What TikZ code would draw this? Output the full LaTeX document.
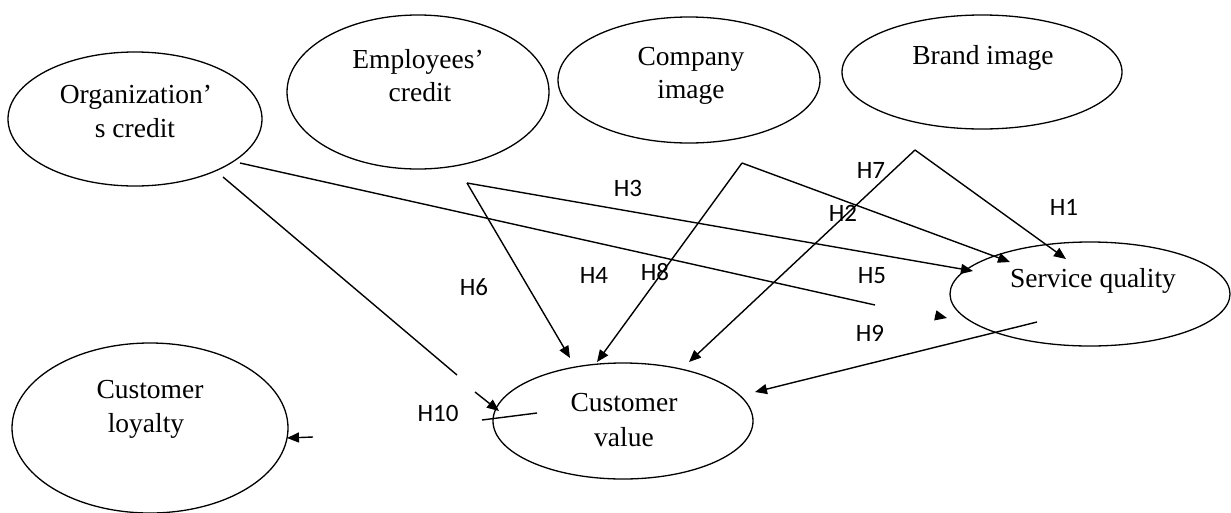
\documentclass[tikz,border=0pt]{standalone}
\usepackage{fontspec}
\setmainfont{Liberation Serif}
\newfontfamily\hfont{Carlito}
\usetikzlibrary{arrows.meta,shapes.geometric}
\begin{document}
\begin{tikzpicture}[x=1pt,y=-1pt,
  ell/.style={draw, ellipse, line width=1.3pt, inner sep=0pt},
  etext/.style={font=\fontsize{27.5}{34}\selectfont, anchor=base, inner sep=0pt},
  hlab/.style={font=\hfont\fontsize{25}{28}\selectfont, inner sep=0pt},
  ln/.style={line width=1.4pt},
  arr/.style={line width=1.4pt, -{Triangle[length=12pt,width=10pt]}}
]
\useasboundingbox (0,0) rectangle (1231,512);
\fill[white] (0,0) rectangle (1231,512);

% ellipses
\node[ell, minimum width=254pt, minimum height=134pt] (org) at (135,119) {};
\node[ell, minimum width=262pt, minimum height=154pt] (emp) at (418,92) {};
\node[ell, minimum width=262pt, minimum height=126pt] (comp) at (689,80) {};
\node[ell, minimum width=280pt, minimum height=114pt] (brand) at (982,72) {};
\node[ell, minimum width=280pt, minimum height=104pt] (sq) at (1090,294) {};
\node[ell, minimum width=260pt, minimum height=116pt] (cv) at (623,421) {};
\node[ell, minimum width=276pt, minimum height=170pt] (cl) at (150,428) {};

% ellipse texts
\node[etext] (org1) at (136,103) {Organization’};
\node[etext] (org2) at (135,137) {s credit};
\node[etext] (emp1) at (418,68) {Employees’};
\node[etext] (emp2) at (420,101) {credit};
\node[etext] (comp1) at (691,65) {Company};
\node[etext] (comp2) at (691,98) {image};
\node[etext] (brand1) at (983,64) {Brand image};
\node[etext] (sq1) at (1093,287) {Service quality};
\node[etext] (cv1) at (624,411) {Customer};
\node[etext] (cv2) at (624,446) {value};
\node[etext] (cl1) at (150,398) {Customer};
\node[etext] (cl2) at (146,432) {loyalty};

% connector points
\coordinate (orgA) at (240,163);
\coordinate (orgB) at (875,305);
\coordinate (sqTa) at (935,315.3);
\coordinate (sqTb) at (947,318);
\coordinate (orgC) at (223,177);
\coordinate (orgD) at (457,375);
\coordinate (h10a) at (475,392);
\coordinate (h10b) at (499,411);
\coordinate (cva) at (482,420);
\coordinate (cvb) at (537,413);
\coordinate (cla) at (313,437);
\coordinate (clb) at (287,438);
\coordinate (empA) at (467,183);
\coordinate (empSQ) at (973,271);
\coordinate (empCV) at (570,358);
\coordinate (compA) at (742,163);
\coordinate (compSQ) at (1010,262);
\coordinate (compCV) at (597,362);
\coordinate (brandA) at (915,150);
\coordinate (brandSQ) at (1066,259);
\coordinate (brandCV) at (689,362);
\coordinate (sqS) at (1037,322);
\coordinate (sqCV) at (755,392);

% connectors
\draw[ln] (orgA) -- (orgB);
\draw[arr] (sqTa) -- (sqTb);
\draw[ln] (orgC) -- (orgD);
\draw[arr] (h10a) -- (h10b);
\draw[ln] (cva) -- (cvb);
\draw[arr] (cla) -- (clb);
\draw[arr] (empA) -- (empSQ);
\draw[arr] (empA) -- (empCV);
\draw[arr] (compA) -- (compSQ);
\draw[arr] (compA) -- (compCV);
\draw[arr] (brandA) -- (brandSQ);
\draw[arr] (brandA) -- (brandCV);
\draw[arr] (sqS) -- (sqCV);

% hypothesis labels
\node[hlab] (H1) at (1064,207) {H1};
\node[hlab] (H2) at (843,213) {H2};
\node[hlab] (H3) at (628,188) {H3};
\node[hlab] (H4) at (594,275) {H4};
\node[hlab] (H5) at (872,276) {H5};
\node[hlab] (H6) at (474,287) {H6};
\node[hlab] (H7) at (871,170) {H7};
\node[hlab] (H8) at (655,272) {H8};
\node[hlab] (H9) at (870,333) {H9};
\node[hlab] (H10) at (438,413) {H10};
\end{tikzpicture}
\end{document}
